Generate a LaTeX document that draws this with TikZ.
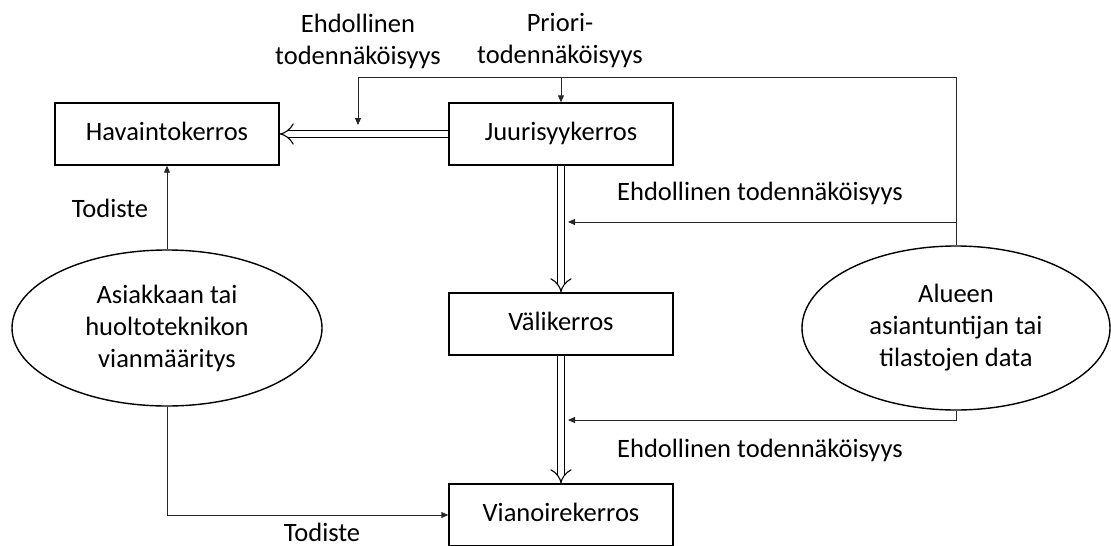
\documentclass[tikz,border=0pt]{standalone}
\usepackage{fontspec}
\setmainfont{Carlito}
\usetikzlibrary{shapes.geometric,arrows.meta}
\begin{document}
\begin{tikzpicture}[x=1pt,y=-1pt,
  font=\fontsize{26.5}{32}\selectfont,
  layerbox/.style={draw=black,line width=1.4pt,minimum width=224pt,minimum height=62pt,inner sep=0pt,text height=17pt,text depth=5pt},
  source/.style={draw=black,line width=1.4pt,ellipse,inner sep=0pt,align=center},
  thin/.style={draw=black!85,line width=0.9pt},
  tip/.style={-{Triangle[length=7pt,width=6pt]}},
  flow/.style={double=white,draw=black,line width=1.1pt,double distance=6.5pt,-{Implies}},
  lbl/.style={align=center,inner sep=0pt}]
\useasboundingbox (0,0) rectangle (1111,546);
\node[layerbox] (hav) at (167,134) {Havaintokerros};
\node[layerbox] (juu) at (561,134) {Juurisyykerros};
\node[layerbox] (val) at (561,324) {Välikerros};
\node[layerbox] (via) at (561,515) {Vianoirekerros};
\node[source,minimum width=310pt,minimum height=156pt] (asi) at (167,328) {Asiakkaan tai\\huoltoteknikon\\vianmääritys};
\node[source,minimum width=308pt,minimum height=164pt] (alu) at (956,328) {Alueen\\asiantuntijan tai\\tilastojen data};
\draw[flow] (juu.west) -- (hav.east);
\draw[flow] (juu.south) -- (val.north);
\draw[flow] (val.south) -- (via.north);
\draw[thin,tip] (asi.north) -- (hav.south);
\draw[thin,tip] (asi.south) |- (via.west);
\coordinate (top) at (956,77);
\coordinate (topl) at (358,77);
\coordinate (ehd1) at (358,125);
\coordinate (pri) at (561,77);
\coordinate (m1) at (956,222);
\coordinate (e2) at (568,222);
\coordinate (m2) at (956,420);
\coordinate (e3) at (568,420);
\draw[thin] (alu.north) -- (top);
\draw[thin,tip] (top) -- (topl) -- (ehd1);
\draw[thin,tip] (pri) -- (juu.north);
\draw[thin,tip] (m1) -- (e2);
\draw[thin,tip] (alu.south) -- (m2) -- (e3);
\node[lbl] (l1) at (358,41) {Ehdollinen\\todennäköisyys};
\node[lbl] (l2) at (560,41) {Priori-\\todennäköisyys};
\node[lbl] (l3) at (760,193) {Ehdollinen todennäköisyys};
\node[lbl] (l4) at (760,450) {Ehdollinen todennäköisyys};
\node[lbl] (l5) at (110,208) {Todiste};
\node[lbl] (l6) at (322,532) {Todiste};
\end{tikzpicture}
\end{document}
